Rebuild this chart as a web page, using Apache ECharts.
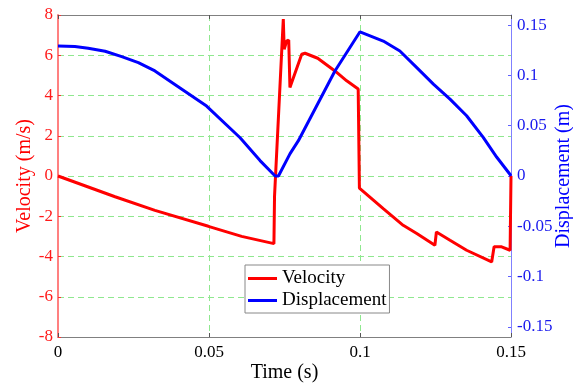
<!DOCTYPE html>
<html>
<head>
<meta charset="utf-8">
<script src="https://cdn.jsdelivr.net/npm/echarts@6/dist/echarts.min.js"></script>
<style>
html,body{margin:0;padding:0;background:#fff;}
#chart{width:573px;height:386px;}
</style>
</head>
<body>
<div id="chart"></div>
<script>
// Velocity (m/s) vs time (s)
const timeVel = [0, 0.0189, 0.0321, 0.0498, 0.0608, 0.0715, 0.0717, 0.0746, 0.0749, 0.0757, 0.0764, 0.0768, 0.0807, 0.0818, 0.0860, 0.0917, 0.0956, 0.0994, 0.0998, 0.1077, 0.1143, 0.1188, 0.1248, 0.1253, 0.1298, 0.1353, 0.1436, 0.1444, 0.1469, 0.1497, 0.15];
const velocity = [0, -1.03, -1.71, -2.5, -3.0, -3.36, -1.0, 7.8, 6.3, 6.7, 6.76, 4.4, 6.05, 6.1, 5.85, 5.22, 4.73, 4.32, -0.6, -1.62, -2.45, -2.86, -3.44, -2.78, -3.19, -3.69, -4.27, -3.52, -3.52, -3.69, 0];
// Displacement (m) vs time (s)
const timeDisp = [0, 0.0056, 0.01, 0.0156, 0.0211, 0.0266, 0.0321, 0.0382, 0.0492, 0.0603, 0.0669, 0.0719, 0.073, 0.0768, 0.0796, 0.0917, 0.1, 0.1077, 0.1132, 0.1188, 0.1243, 0.1298, 0.1353, 0.1408, 0.1453, 0.1497, 0.15];
const displacement = [0.1292, 0.1287, 0.127, 0.124, 0.1186, 0.1127, 0.1044, 0.092, 0.0695, 0.038, 0.0153, 0, 0, 0.022, 0.0351, 0.1044, 0.1433, 0.1341, 0.1242, 0.1077, 0.0913, 0.0764, 0.0599, 0.0384, 0.0186, 0.0015, 0];
// Tick labels
const timeTicks = [0, 0.05, 0.1, 0.15];
const dispTicks = [-0.15, -0.1, -0.05, 0, 0.05, 0.1, 0.15];

const FONT = 'Liberation Serif';
const gridLine = {show: true, showMinLine: false, showMaxLine: false, lineStyle: {color: '#8fe88f', type: [6, 4], width: 1}};

const chart = echarts.init(document.getElementById('chart'), null, {renderer: 'canvas'});
chart.setOption({
  animation: false,
  backgroundColor: '#fff',
  grid: {left: 58, right: 62, top: 15, bottom: 49, containLabel: false, outerBoundsMode: 'none'},
  legend: {
    orient: 'vertical', left: 245, top: 265,
    padding: [4, 3, 3, 3], itemGap: 3, itemWidth: 29, itemHeight: 3,
    icon: 'rect',
    borderColor: '#888', borderWidth: 1, backgroundColor: '#fff',
    textStyle: {fontFamily: FONT, fontSize: 19, color: '#000'},
    data: ['Velocity', 'Displacement']
  },
  xAxis: [{
    type: 'value', min: 0, max: 0.15, interval: 0.05,
    name: 'Time (s)', nameLocation: 'middle', nameGap: 26, nameMoveOverlap: false,
    nameTextStyle: {fontFamily: FONT, fontSize: 20, color: '#000'},
    axisLine: {show: true, onZero: false, lineStyle: {color: '#808080', width: 1}},
    axisTick: {show: true, inside: true, length: 4, lineStyle: {color: '#555'}},
    axisLabel: {fontFamily: FONT, fontSize: 17, color: '#000', margin: 7, customValues: timeTicks},
    splitLine: gridLine
  }, {
    type: 'value', position: 'top', min: 0, max: 0.15, interval: 0.05,
    axisLine: {show: true, onZero: false, lineStyle: {color: '#808080', width: 1}},
    axisTick: {show: true, inside: true, length: 4, lineStyle: {color: '#555'}},
    axisLabel: {show: false},
    splitLine: {show: false}
  }],
  yAxis: [{
    type: 'value', min: -8, max: 8, interval: 2,
    name: 'Velocity (m/s)', nameLocation: 'middle', nameGap: 23, nameMoveOverlap: false,
    nameTextStyle: {fontFamily: FONT, fontSize: 20, color: '#ff0000'},
    axisLine: {show: true, onZero: false, lineStyle: {color: '#ff8080', width: 2}},
    axisTick: {show: true, inside: true, length: 3, lineStyle: {color: '#ff3030'}},
    axisLabel: {fontFamily: FONT, fontSize: 17, color: '#ff1a1a', margin: 5},
    splitLine: gridLine
  }, {
    type: 'value', position: 'right', min: -0.16, max: 0.16,
    name: 'Displacement (m)', nameLocation: 'middle', nameGap: 43, nameMoveOverlap: false,
    nameTextStyle: {fontFamily: FONT, fontSize: 20, color: '#0000ff'},
    axisLine: {show: true, onZero: false, lineStyle: {color: '#8080ff', width: 1}},
    axisTick: {show: true, inside: true, length: 3, lineStyle: {color: '#6060ff'}, customValues: dispTicks},
    axisLabel: {fontFamily: FONT, fontSize: 17, color: '#1a1aee', margin: 6, customValues: dispTicks},
    splitLine: {show: false}
  }],
  series: [{
    name: 'Velocity', type: 'line', xAxisIndex: 0, yAxisIndex: 0,
    showSymbol: false, symbol: 'none',
    lineStyle: {color: '#ff0000', width: 3},
    itemStyle: {color: '#ff0000'},
    data: timeVel.map((t, i) => [t, velocity[i]])
  }, {
    name: 'Displacement', type: 'line', xAxisIndex: 0, yAxisIndex: 1,
    showSymbol: false, symbol: 'none',
    lineStyle: {color: '#0000ff', width: 3},
    itemStyle: {color: '#0000ff'},
    data: timeDisp.map((t, i) => [t, displacement[i]])
  }]
});
</script>
</body>
</html>
